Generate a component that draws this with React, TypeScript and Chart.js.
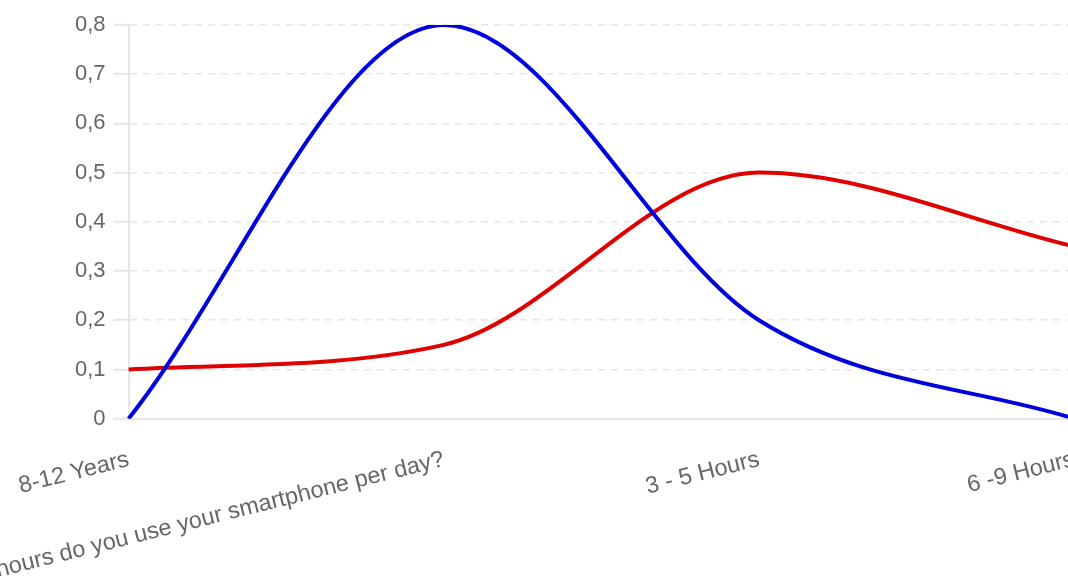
import React, { useEffect, useRef } from "react";
import { Chart, registerables } from "chart.js";

Chart.register(...registerables);

const categories = [
  "8-12 Years",
  "How many hours do you use your smartphone per day?",
  "3 - 5 Hours",
  "6 -9 Hours",
];
const blueSeries = [0, 0.8, 0.2, 0];
const redSeries = [0.1, 0.15, 0.5, 0.35];
const yMin = 0;
const yMax = 0.8;
const yStep = 0.1;

const FONT = "Arial, 'Liberation Sans', Helvetica, sans-serif";
const GRID = "#e6e6e6";

export default function App() {
  const ref = useRef<HTMLCanvasElement>(null);
  useEffect(() => {
    const chart = new Chart(ref.current!, {
      type: "line",
      data: {
        labels: categories,
        datasets: [
          {
            label: "Blue",
            data: blueSeries,
            borderColor: "rgb(0,0,222)",
            backgroundColor: "rgb(0,0,222)",
            borderWidth: 4,
            pointRadius: 0,
            cubicInterpolationMode: "monotone",
            fill: false,
          },
          {
            label: "Red",
            data: redSeries,
            borderColor: "rgb(224,0,0)",
            backgroundColor: "rgb(224,0,0)",
            borderWidth: 4,
            pointRadius: 0,
            cubicInterpolationMode: "monotone",
            fill: false,
          },
        ],
      },
      options: {
        animation: false,
        responsive: true,
        maintainAspectRatio: false,
        plugins: { legend: { display: false }, tooltip: { enabled: false } },
        layout: { padding: { left: 67, top: 25, right: 0, bottom: 0 } },
        scales: {
          x: {
            grid: { display: false },
            border: { display: true, color: GRID, width: 2 },
            ticks: {
              color: "#666",
              font: { size: 23.5, family: FONT },
              minRotation: 14,
              maxRotation: 14,
              autoSkip: false,
              padding: 19,
            },
          },
          y: {
            min: yMin,
            max: yMax,
            ticks: {
              stepSize: yStep,
              color: "#666",
              font: { size: 22, family: FONT },
              padding: 8,
              callback: (v: any) => Number(Number(v).toFixed(1)).toString().replace(".", ","),
            },
            grid: {
              color: GRID,
              lineWidth: 1.5,
              tickLength: 15,
              tickColor: GRID,
              tickWidth: 2,
            },
            border: { display: true, color: GRID, width: 2, dash: [7, 6] },
          },
        },
      },
    });
    return () => chart.destroy();
  }, []);
  return (
    <div style={{ position: "fixed", left: 0, top: 0, width: 1068, height: 576, overflow: "hidden", background: "#fff" }}>
      <div style={{ position: "absolute", left: 0, top: 0, width: 1100, height: 632 }}>
        <canvas ref={ref} />
      </div>
    </div>
  );
}
